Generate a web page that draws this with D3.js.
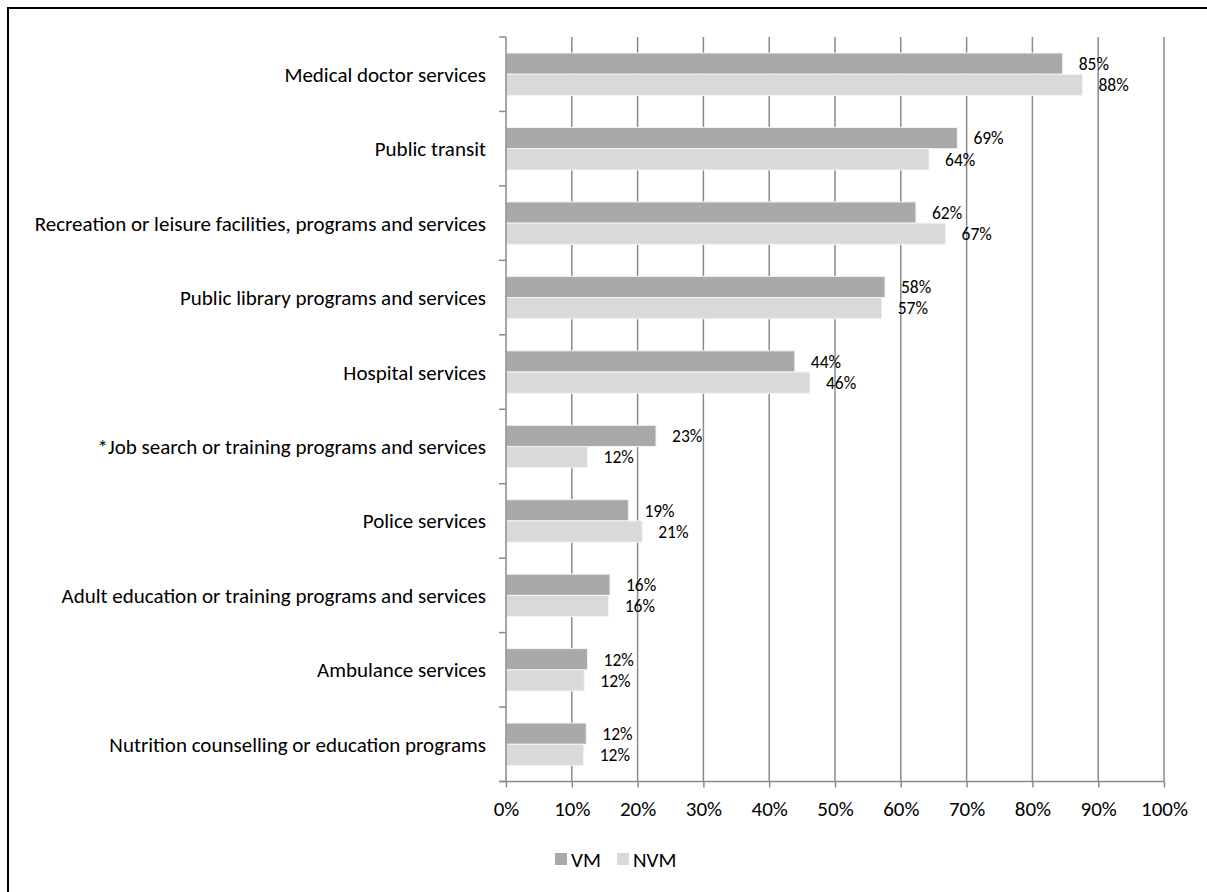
<!DOCTYPE html>
<html>
<head>
<meta charset="utf-8">
<script src="https://cdn.jsdelivr.net/npm/d3@7/dist/d3.min.js"></script>
<style>
  html, body { margin: 0; padding: 0; background: #fff; }
  svg { display: block; }
</style>
</head>
<body>
<svg id="chart" width="1207" height="892"></svg>
<script>
// Services used, share of respondents (VM vs NVM)
const categories = [
  "Medical doctor services",
  "Public transit",
  "Recreation or leisure facilities, programs and services",
  "Public library programs and services",
  "Hospital services",
  "*Job search or training programs and services",
  "Police services",
  "Adult education or training programs and services",
  "Ambulance services",
  "Nutrition counselling or education programs"
];
const seriesNames = ["VM", "NVM"];
const vmValues  = [0.846, 0.686, 0.623, 0.576, 0.439, 0.228, 0.186, 0.158, 0.124, 0.122];
const nvmValues = [0.876, 0.643, 0.668, 0.571, 0.462, 0.124, 0.207, 0.156, 0.119, 0.118];
const xTickValues = [0, 0.1, 0.2, 0.3, 0.4, 0.5, 0.6, 0.7, 0.8, 0.9, 1.0];

const colors = { VM: "#a9a9a9", NVM: "#d9d9d9" };
const gridColor = "#8a8a8a";
const fontFamily = "Carlito, Calibri, Lato, 'Open Sans', sans-serif";

const svg = d3.select("#chart");

// pick a font size so the text runs as wide as 21px Calibri would
const probe = svg.append("text")
  .attr("font-family", fontFamily).attr("font-size", 21)
  .text(categories[2]);
const probeW = probe.node().getComputedTextLength();
probe.remove();
const fontSize = Math.min(21, 21 * 458 / probeW);
const valueFontSize = Math.min(fontSize, 17.5);

// outer frame
svg.append("rect")
  .attr("x", 8).attr("y", 8).attr("width", 1220).attr("height", 920)
  .attr("fill", "none").attr("stroke", "#000").attr("stroke-width", 2);

const plot = { left: 506, right: 1164, top: 37, bottom: 781.5 };

const x = d3.scaleLinear().domain([0, 1]).range([plot.left, plot.right]);
const y = d3.scaleBand().domain(categories)
  .range([plot.top, plot.bottom])
  .paddingInner(0.43).paddingOuter(0.215);
const ySub = d3.scaleBand().domain(seriesNames).range([0, y.bandwidth()]);

// vertical gridlines
svg.append("g").selectAll("line")
  .data(xTickValues.filter(d => d > 0))
  .join("line")
  .attr("x1", d => x(d)).attr("x2", d => x(d))
  .attr("y1", plot.top).attr("y2", plot.bottom)
  .attr("stroke", gridColor).attr("stroke-width", 1.5);

// bars
const rows = categories.map((c, i) => ({ cat: c, VM: vmValues[i], NVM: nvmValues[i] }));
const groups = svg.append("g").selectAll("g")
  .data(rows).join("g")
  .attr("transform", d => `translate(0,${y(d.cat)})`);

groups.selectAll("rect")
  .data(d => seriesNames.map(s => ({ s, v: d[s] })))
  .join("rect")
  .attr("x", x(0))
  .attr("y", d => ySub(d.s))
  .attr("width", d => x(d.v) - x(0))
  .attr("height", ySub.bandwidth())
  .attr("fill", d => colors[d.s])
  .attr("stroke", "#f4f4f4").attr("stroke-width", 1);

// value labels
const fmt = d3.format(".0%");
groups.selectAll("text")
  .data(d => seriesNames.map(s => ({ s, v: d[s] })))
  .join("text")
  .attr("x", d => x(d.v) + 16)
  .attr("y", d => ySub(d.s) + ySub.bandwidth() / 2)
  .attr("dy", "0.36em")
  .attr("font-family", fontFamily).attr("font-size", valueFontSize)
  .attr("fill", "#000")
  .text(d => fmt(d.v));

// x axis
const xAxis = d3.axisBottom(x).tickValues(xTickValues).tickFormat(fmt)
  .tickSize(6).tickPadding(14);
const gx = svg.append("g").attr("transform", `translate(0,${plot.bottom})`).call(xAxis);
gx.select(".domain").attr("stroke", gridColor).attr("stroke-width", 1.5)
  .attr("d", `M${plot.left - 7},0H${plot.right}`);
gx.selectAll(".tick line").attr("stroke", gridColor).attr("stroke-width", 1.5);
gx.selectAll(".tick text")
  .attr("font-family", fontFamily).attr("font-size", fontSize).attr("fill", "#000");

// y axis line and band-boundary ticks
const gy = svg.append("g");
gy.append("line")
  .attr("x1", plot.left).attr("x2", plot.left)
  .attr("y1", plot.top).attr("y2", plot.bottom)
  .attr("stroke", gridColor).attr("stroke-width", 1.5);
const step = y.step();
const bounds = d3.range(categories.length + 1).map(i => plot.top + i * step);
gy.selectAll("line.tick")
  .data(bounds).join("line").attr("class", "tick")
  .attr("x1", plot.left - 7).attr("x2", plot.left)
  .attr("y1", d => d).attr("y2", d => d)
  .attr("stroke", gridColor).attr("stroke-width", 1.5);

// category labels
gy.selectAll("text")
  .data(categories).join("text")
  .attr("x", 486)
  .attr("y", d => y(d) + y.bandwidth() / 2)
  .attr("dy", "0.36em")
  .attr("text-anchor", "end")
  .attr("font-family", fontFamily).attr("font-size", fontSize)
  .attr("fill", "#000")
  .text(d => d);

// legend
const legendItems = [{ s: "VM", x: 555 }, { s: "NVM", x: 617 }];
const lg = svg.append("g").selectAll("g").data(legendItems).join("g")
  .attr("transform", d => `translate(${d.x},853)`);
lg.append("rect").attr("width", 12).attr("height", 12)
  .attr("fill", d => colors[d.s]);
lg.append("text")
  .attr("x", 16).attr("y", 6).attr("dy", "0.36em")
  .attr("font-family", fontFamily).attr("font-size", fontSize)
  .attr("fill", "#000")
  .text(d => d.s);
</script>
</body>
</html>
